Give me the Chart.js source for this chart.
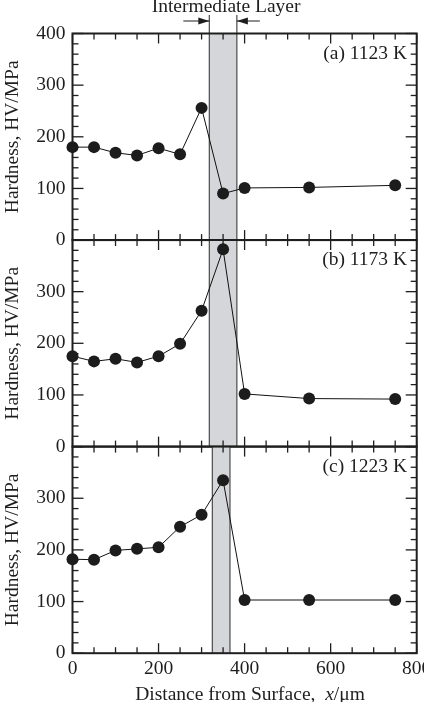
<!DOCTYPE html>
<html>
<head>
<meta charset="utf-8">
<script src="https://cdn.jsdelivr.net/npm/chart.js@4.4.1/dist/chart.umd.min.js"></script>
<style>
  html, body { margin: 0; padding: 0; background: #fff; }
  #wrap { position: relative; width: 424px; height: 702px; overflow: hidden; }
  #wrap canvas { position: absolute; left: 0; top: 0; }
</style>
</head>
<body>
<div id="wrap">
  <canvas id="panelA" width="424" height="702"></canvas>
  <canvas id="panelB" width="424" height="702"></canvas>
  <canvas id="panelC" width="424" height="702"></canvas>
</div>
<script>
// distance from surface (um) and hardness (HV/MPa) per temperature
const distance = [0, 50, 100, 150, 200, 250, 300, 350, 400, 550, 750];
const hard1123 = [180, 180, 169, 164, 178, 166, 256, 90, 101, 102, 106];
const hard1173 = [175, 165, 170, 163, 175, 199, 263, 382, 102, 93, 92];
const hard1223 = [182, 181, 199, 202, 205, 245, 268, 335, 103, 103, 103];

const panelLabels = ['(a) 1123 K', '(b) 1173 K', '(c) 1223 K'];
// intermediate layer extent (um) for each panel
const layerStart = [318, 318, 325];
const layerEnd = [382, 382, 366];

const xTicks = [0, 200, 400, 600, 800];
const yTicks = [0, 100, 200, 300, 400];
const xMinorStep = 50;
const yMinorStep = 20;

const FONT = '"Liberation Serif", "Times New Roman", serif';
const INK = '#1e1e1e';
Chart.defaults.font.family = FONT;
Chart.defaults.color = INK;

function line(ctx, x1, y1, x2, y2) {
  ctx.beginPath();
  ctx.moveTo(x1, y1);
  ctx.lineTo(x2, y2);
  ctx.stroke();
}

function arrowHead(ctx, tipX, y, dir) {
  ctx.beginPath();
  ctx.moveTo(tipX, y);
  ctx.lineTo(tipX - dir * 11, y - 3.5);
  ctx.lineTo(tipX - dir * 11, y + 3.5);
  ctx.closePath();
  ctx.fill();
}

function decoPlugin(idx) {
  return {
    id: 'deco' + idx,
    beforeDatasetsDraw(chart) {
      const { ctx, chartArea: a, scales: { x, y } } = chart;
      ctx.save();
      const bl = x.getPixelForValue(layerStart[idx]);
      const br = x.getPixelForValue(layerEnd[idx]);
      ctx.fillStyle = '#d4d6d9';
      ctx.fillRect(bl, a.top, br - bl, a.bottom - a.top);
      ctx.strokeStyle = '#4a4a4a';
      ctx.lineWidth = 1.2;
      const lineTop = idx === 0 ? 15 : a.top;
      line(ctx, bl, lineTop, bl, a.bottom);
      line(ctx, br, lineTop, br, a.bottom);

      if (idx === 0) {
        // "Intermediate Layer" marker above the top panel
        ctx.strokeStyle = INK;
        ctx.fillStyle = INK;
        ctx.lineWidth = 1;
        line(ctx, bl - 26, 21, bl, 21);
        arrowHead(ctx, bl, 21, 1);
        line(ctx, br + 23, 21, br, 21);
        arrowHead(ctx, br, 21, -1);
        ctx.font = '19.5px ' + FONT;
        ctx.textAlign = 'center';
        ctx.textBaseline = 'alphabetic';
        ctx.fillText('Intermediate Layer', (bl + br) / 2 + 3, 11.5);
      }

      // inward ticks on all four sides
      ctx.strokeStyle = INK;
      ctx.lineWidth = 1.3;
      const xMajor = xTicks[1] - xTicks[0];
      for (let v = x.min; v <= x.max; v += xMinorStep) {
        const px = x.getPixelForValue(v);
        const len = v % xMajor === 0 ? 10 : 6;
        line(ctx, px, a.top, px, a.top + len);
        line(ctx, px, a.bottom, px, a.bottom - len);
      }
      const yMajor = yTicks[1] - yTicks[0];
      for (let v = y.min; v <= y.max; v += yMinorStep) {
        const py = y.getPixelForValue(v);
        const len = v % yMajor === 0 ? 11 : 6;
        line(ctx, a.left, py, a.left + len, py);
        line(ctx, a.right, py, a.right - len, py);
      }

      // frame
      ctx.lineWidth = 2;
      ctx.strokeRect(a.left, a.top, a.right - a.left, a.bottom - a.top);

      // panel label
      ctx.fillStyle = INK;
      ctx.font = '19.5px ' + FONT;
      ctx.textAlign = 'right';
      ctx.textBaseline = 'alphabetic';
      ctx.fillText(panelLabels[idx], 407, a.top + 25);

      if (idx === 2) {
        // x axis title with italic x
        const parts = [
          ['Distance from Surface,  ', ''],
          ['x', 'italic '],
          ['/\u03BCm', '']
        ];
        let total = 0;
        parts.forEach(p => {
          ctx.font = p[1] + '19.5px ' + FONT;
          total += ctx.measureText(p[0]).width;
        });
        let cx = 250 - total / 2;
        ctx.textAlign = 'left';
        parts.forEach(p => {
          ctx.font = p[1] + '19.5px ' + FONT;
          ctx.fillText(p[0], cx, 700);
          cx += ctx.measureText(p[0]).width;
        });
      }
      ctx.restore();
    }
  };
}

const panelTops = [33.5, 240, 446.6];
const panelH = 206.6;
const series = [hard1123, hard1173, hard1223];
const canvasIds = ['panelA', 'panelB', 'panelC'];

series.forEach((vals, idx) => {
  const isBottom = idx === 2;
  const top = panelTops[idx];
  const bottom = top + panelH;
  new Chart(document.getElementById(canvasIds[idx]), {
    type: 'line',
    data: {
      datasets: [{
        data: distance.map((d, i) => ({ x: d, y: vals[i] })),
        borderColor: '#111',
        borderWidth: 1,
        pointRadius: 6,
        pointBackgroundColor: '#1c1c1c',
        pointBorderColor: '#1c1c1c',
        pointBorderWidth: 0,
        tension: 0,
        clip: false
      }]
    },
    options: {
      responsive: false,
      animation: false,
      devicePixelRatio: 1,
      layout: {
        padding: { top: top, left: 0, right: 424 - 416.7, bottom: 0 }
      },
      plugins: { legend: { display: false }, tooltip: { enabled: false } },
      scales: {
        x: {
          type: 'linear',
          min: xTicks[0],
          max: xTicks[xTicks.length - 1],
          grid: { display: false, drawTicks: false },
          border: { display: false },
          ticks: {
            display: isBottom,
            stepSize: xTicks[1] - xTicks[0],
            font: { size: 19.5 },
            color: INK,
            padding: 4,
            maxRotation: 0
          },
          afterFit(scale) {
            scale.height = 702 - bottom;
            scale.paddingLeft = 0;
            scale.paddingRight = 0;
          }
        },
        y: {
          min: yTicks[0],
          max: yTicks[yTicks.length - 1],
          grid: { display: false, drawTicks: false },
          border: { display: false },
          ticks: {
            stepSize: yTicks[1] - yTicks[0],
            font: { size: 19.5 },
            color: INK,
            padding: 7,
            callback: v => (idx > 0 && v === 400) ? '' : v
          },
          title: {
            display: true,
            text: 'Hardness, HV/MPa',
            font: { size: 19.5 },
            color: INK,
            padding: { top: 1, bottom: 0 }
          },
          afterFit(scale) {
            scale.width = 72.5;
            scale.paddingTop = 0;
            scale.paddingBottom = 0;
          }
        }
      }
    },
    plugins: [decoPlugin(idx)]
  });
});
</script>
</body>
</html>
